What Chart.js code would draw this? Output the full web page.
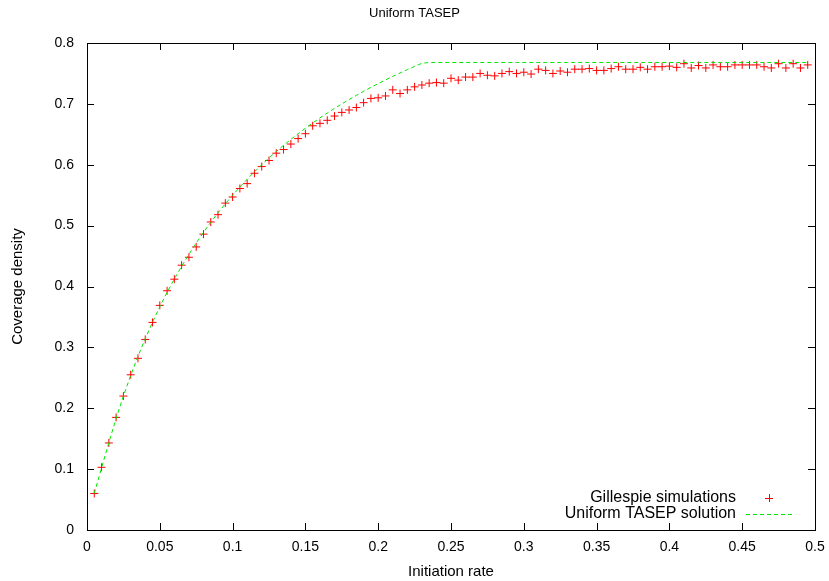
<!DOCTYPE html>
<html>
<head>
<meta charset="utf-8">
<script src="https://cdn.jsdelivr.net/npm/chart.js@4.4.0/dist/chart.umd.min.js"></script>
<style>
  html, body { margin: 0; padding: 0; background: white; }
</style>
</head>
<body>
<canvas id="tasepCanvas" width="829" height="581"></canvas>
<script>
// initiation rates (x values)
const initiationRates = [
  0.005, 0.01, 0.015, 0.02, 0.025, 0.03, 0.035, 0.04, 0.045, 0.05,
  0.055, 0.06, 0.065, 0.07, 0.075, 0.08, 0.085, 0.09, 0.095, 0.1,
  0.105, 0.11, 0.115, 0.12, 0.125, 0.13, 0.135, 0.14, 0.145, 0.15,
  0.155, 0.16, 0.165, 0.17, 0.175, 0.18, 0.185, 0.19, 0.195, 0.2,
  0.205, 0.21, 0.215, 0.22, 0.225, 0.23, 0.235, 0.24, 0.245, 0.25,
  0.255, 0.26, 0.265, 0.27, 0.275, 0.28, 0.285, 0.29, 0.295, 0.3,
  0.305, 0.31, 0.315, 0.32, 0.325, 0.33, 0.335, 0.34, 0.345, 0.35,
  0.355, 0.36, 0.365, 0.37, 0.375, 0.38, 0.385, 0.39, 0.395, 0.4,
  0.405, 0.41, 0.415, 0.42, 0.425, 0.43, 0.435, 0.44, 0.445, 0.45,
  0.455, 0.46, 0.465, 0.47, 0.475, 0.48, 0.485, 0.49, 0.495
];

// coverage density from the Gillespie simulations
const gillespieDensity = [
  0.060, 0.103, 0.143, 0.185, 0.220, 0.255, 0.282, 0.313, 0.341, 0.369,
  0.393, 0.412, 0.435, 0.448, 0.465, 0.486, 0.506, 0.518, 0.537, 0.547,
  0.561, 0.569, 0.586, 0.597, 0.607, 0.619, 0.625, 0.634, 0.643, 0.651,
  0.664, 0.668, 0.673, 0.680, 0.686, 0.690, 0.694, 0.702, 0.709, 0.710,
  0.713, 0.723, 0.717, 0.723, 0.728, 0.731, 0.734, 0.735, 0.734, 0.742,
  0.739, 0.744, 0.744, 0.750, 0.747, 0.746, 0.750, 0.753, 0.750, 0.752,
  0.749, 0.757, 0.755, 0.750, 0.754, 0.752, 0.757, 0.757, 0.758, 0.755,
  0.755, 0.758, 0.761, 0.757, 0.757, 0.760, 0.757, 0.761, 0.761, 0.762,
  0.760, 0.766, 0.759, 0.763, 0.759, 0.764, 0.761, 0.761, 0.764, 0.764,
  0.764, 0.764, 0.761, 0.759, 0.766, 0.759, 0.766, 0.759, 0.764
];

// coverage density of the uniform TASEP solution
const tasepDensity = [
  0.060, 0.102, 0.1435, 0.1833, 0.220, 0.2538, 0.2852, 0.3143, 0.3414, 0.3667,
  0.3903, 0.4125, 0.4333, 0.4529, 0.4714, 0.4889, 0.5054, 0.5211, 0.5359, 0.550,
  0.5634, 0.5762, 0.5884, 0.600, 0.6111, 0.6217, 0.6319, 0.6417, 0.6510, 0.660,
  0.6686, 0.6769, 0.6849, 0.6926, 0.700, 0.7071, 0.7140, 0.7207, 0.7271, 0.7333,
  0.7393, 0.7452, 0.7508, 0.7563, 0.7615, 0.7667, 0.768, 0.768, 0.768, 0.768,
  0.768, 0.768, 0.768, 0.768, 0.768, 0.768, 0.768, 0.768, 0.768, 0.768,
  0.768, 0.768, 0.768, 0.768, 0.768, 0.768, 0.768, 0.768, 0.768, 0.768,
  0.768, 0.768, 0.768, 0.768, 0.768, 0.768, 0.768, 0.768, 0.768, 0.768,
  0.768, 0.768, 0.768, 0.768, 0.768, 0.768, 0.768, 0.768, 0.768, 0.768,
  0.768, 0.768, 0.768, 0.768, 0.768, 0.768, 0.768, 0.768, 0.768
];

// tick labels
const xTickLabels = ['0', '0.05', '0.1', '0.15', '0.2', '0.25', '0.3', '0.35', '0.4', '0.45', '0.5'];
const yTickLabels = ['0', '0.1', '0.2', '0.3', '0.4', '0.5', '0.6', '0.7', '0.8'];

const seriesNames = ['Gillespie simulations', 'Uniform TASEP solution'];
const chartTitle = 'Uniform TASEP';

const FONT = '"Liberation Sans", Arial, sans-serif';
const RED = '#ff0000';
const GREEN = '#00e600';

// building point lists
const toPoints = (xs, ys) => xs.map((x, i) => ({ x: x, y: ys[i] }));

// title centred on the whole canvas, like gnuplot does
const titlePlugin = {
  id: 'centredTitle',
  afterDraw(chart) {
    const ctx = chart.ctx;
    ctx.save();
    ctx.font = '13px ' + FONT;
    ctx.fillStyle = 'black';
    ctx.textAlign = 'center';
    ctx.textBaseline = 'middle';
    ctx.fillText(chartTitle, chart.width / 2, 13);
    ctx.restore();
  }
};

// gnuplot-like frame with inward ticks on all four sides
const framePlugin = {
  id: 'frame',
  afterDraw(chart) {
    const ctx = chart.ctx;
    const area = chart.chartArea;
    const xs = chart.scales.x;
    const ys = chart.scales.y;
    const len = 7;

    ctx.save();
    ctx.strokeStyle = 'black';
    ctx.lineWidth = 1;
    ctx.beginPath();
    xTickLabels.forEach(lbl => {
      const px = Math.round(xs.getPixelForValue(parseFloat(lbl))) + 0.5;
      ctx.moveTo(px, area.bottom);
      ctx.lineTo(px, area.bottom - len);
      ctx.moveTo(px, area.top);
      ctx.lineTo(px, area.top + len);
    });
    yTickLabels.forEach(lbl => {
      const py = Math.round(ys.getPixelForValue(parseFloat(lbl))) + 0.5;
      ctx.moveTo(area.left, py);
      ctx.lineTo(area.left + len, py);
      ctx.moveTo(area.right, py);
      ctx.lineTo(area.right - len, py);
    });
    ctx.stroke();
    ctx.strokeRect(Math.round(area.left) + 0.5, Math.round(area.top) + 0.5,
      Math.round(area.right - area.left), Math.round(area.bottom - area.top));
    ctx.restore();
  }
};

// key in the lower right corner
const keyPlugin = {
  id: 'key',
  afterDraw(chart) {
    const ctx = chart.ctx;
    const area = chart.chartArea;
    const textRight = area.right - 79;
    const row1 = area.bottom - 32;
    const row2 = area.bottom - 16;

    ctx.save();
    ctx.font = '16px ' + FONT;
    ctx.fillStyle = 'black';
    ctx.textAlign = 'right';
    ctx.textBaseline = 'middle';
    ctx.fillText(seriesNames[0], textRight, row1);
    ctx.fillText(seriesNames[1], textRight, row2);

    // cross sample
    const cx = area.right - 46;
    ctx.strokeStyle = RED;
    ctx.lineWidth = 1;
    ctx.beginPath();
    ctx.moveTo(cx - 4, row1 + 0.5);
    ctx.lineTo(cx + 4, row1 + 0.5);
    ctx.moveTo(cx + 0.5, row1 - 4);
    ctx.lineTo(cx + 0.5, row1 + 4);
    ctx.stroke();

    // dashed sample
    ctx.strokeStyle = GREEN;
    ctx.setLineDash([4, 3]);
    ctx.beginPath();
    ctx.moveTo(area.right - 69, row2 + 0.5);
    ctx.lineTo(area.right - 22, row2 + 0.5);
    ctx.stroke();
    ctx.restore();
  }
};

const data = {
  datasets: [{
    label: seriesNames[0],
    data: toPoints(initiationRates, gillespieDensity),
    showLine: false,
    pointStyle: 'cross',
    pointRadius: 4,
    pointBorderWidth: 1,
    borderColor: RED,
    backgroundColor: RED,
    order: 1
  }, {
    label: seriesNames[1],
    data: toPoints(initiationRates, tasepDensity),
    showLine: true,
    pointRadius: 0,
    borderColor: GREEN,
    borderWidth: 1,
    borderDash: [4, 3],
    tension: 0,
    order: 0
  }]
};

const options = {
  responsive: false,
  animation: false,
  layout: {
    padding: { left: 0, right: 14, top: 43, bottom: 0 }
  },
  plugins: {
    legend: { display: false },
    tooltip: { enabled: false },
    title: { display: false }
  },
  scales: {
    x: {
      type: 'linear',
      min: 0,
      max: 0.5,
      afterFit: (scale) => {
        scale.height = 51;
        scale.paddingLeft = 0;
        scale.paddingRight = 0;
      },
      afterBuildTicks: (scale) => {
        scale.ticks = xTickLabels.map(v => ({ value: parseFloat(v) }));
      },
      grid: { display: false, drawTicks: false },
      border: { display: false },
      ticks: {
        color: 'black',
        padding: 9,
        maxRotation: 0,
        font: { family: FONT, size: 14 },
        callback: (value, index) => xTickLabels[index]
      },
      title: {
        display: true,
        text: 'Initiation rate',
        color: 'black',
        font: { family: FONT, size: 15 },
        padding: { top: 3, bottom: 0 }
      }
    },
    y: {
      type: 'linear',
      min: 0,
      max: 0.8,
      afterFit: (scale) => {
        scale.width = 87;
        scale.paddingTop = 0;
        scale.paddingBottom = 0;
      },
      afterBuildTicks: (scale) => {
        scale.ticks = yTickLabels.map(v => ({ value: parseFloat(v) }));
      },
      grid: { display: false, drawTicks: false },
      border: { display: false },
      ticks: {
        color: 'black',
        padding: 13,
        font: { family: FONT, size: 14 },
        callback: (value, index) => yTickLabels[index]
      },
      title: {
        display: true,
        text: 'Coverage density',
        color: 'black',
        font: { family: FONT, size: 15 },
        padding: { top: 9, bottom: 0 }
      }
    }
  }
};

// sending chart to canvas
const tasepChart = new Chart(document.getElementById('tasepCanvas'), {
  type: 'scatter',
  data: data,
  options: options,
  plugins: [framePlugin, keyPlugin, titlePlugin]
});
</script>
</body>
</html>
